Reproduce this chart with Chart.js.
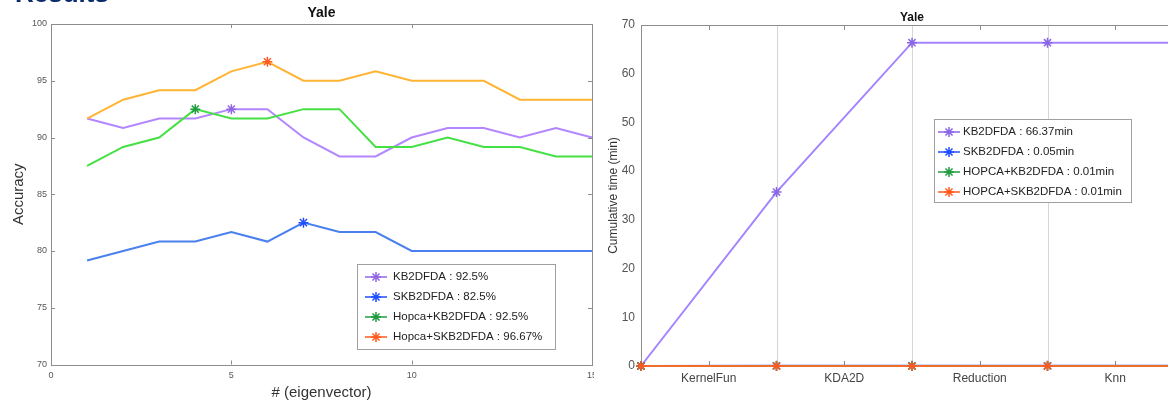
<!DOCTYPE html>
<html>
<head>
<meta charset="utf-8">
<script src="https://cdn.jsdelivr.net/npm/chart.js@4"></script>
<style>
  html, body { margin: 0; padding: 0; background: #fff; overflow: hidden; width: 1168px; height: 402px; }
  #left { position: absolute; left: 0; top: 0; }
  #right { position: absolute; left: 594px; top: 0; background: #fff; }
  #heading { position: absolute; left: 15px; top: -20px; z-index: 2;
    font: bold 26px "Liberation Sans", Arial, sans-serif; line-height: 26px; color: #0b2b6b; }
</style>
</head>
<body>
<div id="heading">Results</div>
<canvas id="left" width="594" height="402"></canvas>
<canvas id="right" width="600" height="402"></canvas>
<script>
// Left chart: accuracy vs number of eigenvectors
const eigenvectors = [1, 2, 3, 4, 5, 6, 7, 8, 9, 10, 11, 12, 13, 14, 15];
const accKb2dfda = [91.67, 90.83, 91.67, 91.67, 92.5, 92.5, 90, 88.33, 88.33, 90, 90.83, 90.83, 90, 90.83, 90];
const accSkb2dfda = [79.17, 80, 80.83, 80.83, 81.67, 80.83, 82.5, 81.67, 81.67, 80, 80, 80, 80, 80, 80];
const accHopcaKb2dfda = [87.5, 89.17, 90, 92.5, 91.67, 91.67, 92.5, 92.5, 89.17, 89.17, 90, 89.17, 89.17, 88.33, 88.33];
const accHopcaSkb2dfda = [91.67, 93.33, 94.17, 94.17, 95.83, 96.67, 95, 95, 95.83, 95, 95, 95, 93.33, 93.33, 93.33];
const accLabels = ['KB2DFDA : 92.5%', 'SKB2DFDA : 82.5%', 'Hopca+KB2DFDA : 92.5%', 'Hopca+SKB2DFDA : 96.67%'];

// Right chart: cumulative time per stage
const stages = ['KernelFun', 'KDA2D', 'Reduction', 'Knn'];
const stagePoints = [0, 1, 2, 3, 4];
const timeKb2dfda = [0, 35.7, 66.37, 66.37, 66.37];
const timeSkb2dfda = [0, 0.03, 0.05, 0.05, 0.05];
const timeHopcaKb2dfda = [0, 0.005, 0.01, 0.01, 0.01];
const timeHopcaSkb2dfda = [0, 0.005, 0.01, 0.01, 0.01];
const timeLabels = ['KB2DFDA : 66.37min', 'SKB2DFDA : 0.05min', 'HOPCA+KB2DFDA : 0.01min', 'HOPCA+SKB2DFDA : 0.01min'];

Chart.defaults.font.family = '"Liberation Sans", Arial, sans-serif';
Chart.defaults.animation = false;

const lineColors = ['#b386ff', '#4a80ee', '#44e044', '#ffb433'];
const markColors = ['#9266e4', '#1f4fff', '#1f9c3e', '#ff5a1f'];

// MATLAB-like box around the plot, inward ticks and optional vertical grid
const matlabFrame = {
  id: 'matlabFrame',
  beforeDatasetsDraw(chart, args, opts) {
    const { ctx, chartArea: a, scales } = chart;
    const px = v => Math.round(v) + 0.5;
    ctx.save();
    ctx.lineWidth = 1;
    ctx.strokeStyle = '#d6d6d6';
    (opts.gridX || []).forEach(v => {
      const x = px(scales.x.getPixelForValue(v));
      ctx.beginPath(); ctx.moveTo(x, a.top); ctx.lineTo(x, a.bottom); ctx.stroke();
    });
    ctx.strokeStyle = '#8c8c8c';
    ctx.strokeRect(px(a.left), px(a.top), Math.round(a.width), Math.round(a.height));
    const len = opts.tickLength;
    ctx.beginPath();
    scales.x.ticks.forEach(t => {
      const x = px(scales.x.getPixelForValue(t.value));
      ctx.moveTo(x, a.bottom); ctx.lineTo(x, a.bottom - len);
      ctx.moveTo(x, a.top); ctx.lineTo(x, a.top + len);
    });
    if (opts.yTicks) {
      scales.y.ticks.forEach(t => {
        const y = px(scales.y.getPixelForValue(t.value));
        ctx.moveTo(a.left, y); ctx.lineTo(a.left + len, y);
        ctx.moveTo(a.right, y); ctx.lineTo(a.right - len, y);
      });
    }
    ctx.stroke();
    ctx.restore();
  }
};

// legend box drawn inside the plot
const boxLegend = {
  id: 'boxLegend',
  afterDatasetsDraw(chart, args, o) {
    const ctx = chart.ctx;
    ctx.save();
    ctx.fillStyle = '#fff';
    ctx.fillRect(o.x, o.y, o.width, o.height);
    ctx.strokeStyle = '#a0a0a0';
    ctx.lineWidth = 1;
    ctx.strokeRect(o.x + 0.5, o.y + 0.5, o.width, o.height);
    ctx.font = o.font;
    ctx.textBaseline = 'middle';
    chart.data.datasets.forEach((ds, i) => {
      const y = o.y + o.firstRow + i * o.rowGap;
      const x = o.x + o.lineStart;
      ctx.strokeStyle = ds.pointBorderColor;
      ctx.lineWidth = 1.5;
      ctx.beginPath(); ctx.moveTo(x, y); ctx.lineTo(x + o.lineLength, y); ctx.stroke();
      ctx.fillStyle = ds.pointBorderColor;
      Chart.helpers.drawPoint(ctx, { pointStyle: 'star', radius: 5, borderWidth: 1.5, rotation: 0 }, x + o.lineLength / 2, y);
      ctx.fillStyle = '#222';
      ctx.fillText(ds.label, x + o.lineLength + o.textGap, y);
    });
    ctx.restore();
  }
};

function accSet(label, values, i) {
  const best = values.indexOf(Math.max(...values));
  return {
    label,
    order: 3 - i,
    data: eigenvectors.map((x, k) => ({ x, y: values[k] })),
    borderColor: lineColors[i],
    borderWidth: 2,
    pointStyle: 'star',
    pointRadius: values.map((v, k) => (k === best ? 5 : 0)),
    pointBorderWidth: 1.5,
    pointBorderColor: markColors[i],
    pointBackgroundColor: markColors[i],
    tension: 0,
    clip: false
  };
}

new Chart(document.getElementById('left'), {
  type: 'line',
  data: {
    datasets: [
      accSet(accLabels[0], accKb2dfda, 0),
      accSet(accLabels[1], accSkb2dfda, 1),
      accSet(accLabels[2], accHopcaKb2dfda, 2),
      accSet(accLabels[3], accHopcaSkb2dfda, 3)
    ]
  },
  options: {
    responsive: false,
    layout: { padding: { left: 0, right: 2, top: 0, bottom: 0 } },
    plugins: {
      legend: { display: false },
      tooltip: { enabled: false },
      title: {
        display: true, text: 'Yale', fullSize: false, color: '#111',
        font: { size: 14, weight: 'bold' }, padding: { top: 5, bottom: 2.2 }
      },
      matlabFrame: { tickLength: 4, yTicks: true },
      boxLegend: { x: 357, y: 264, width: 198, height: 85, firstRow: 13, rowGap: 20,
        lineStart: 8, lineLength: 22, textGap: 6, font: '11.5px "Liberation Sans", Arial, sans-serif' }
    },
    scales: {
      x: {
        type: 'linear', min: 0, max: 15,
        grid: { display: false, drawTicks: false },
        border: { display: false },
        ticks: { stepSize: 5, padding: 6, color: '#555', font: { size: 9 }, maxRotation: 0 },
        title: { display: true, text: '# (eigenvector)', color: '#333', font: { size: 15 }, padding: { top: 0, bottom: 0 } },
        afterFit(s) { s.height = 37.5; s.paddingLeft = 0; s.paddingRight = 0; }
      },
      y: {
        min: 70, max: 100,
        grid: { display: false, drawTicks: false },
        border: { display: false },
        ticks: { stepSize: 5, padding: 4, color: '#555', font: { size: 9 } },
        title: { display: true, text: 'Accuracy', color: '#333', font: { size: 15 }, padding: { top: 10, bottom: 0 } },
        afterFit(s) { s.width = 51; s.paddingTop = 0; s.paddingBottom = 0; }
      }
    }
  },
  plugins: [matlabFrame, boxLegend]
});

function timeSet(label, values, line, mark, order) {
  return {
    label,
    order,
    data: stagePoints.map((x, k) => ({ x, y: values[k] })),
    borderColor: line,
    borderWidth: 2,
    pointStyle: 'star',
    pointRadius: 5,
    pointBorderWidth: 1.5,
    pointBorderColor: mark,
    pointBackgroundColor: mark,
    tension: 0,
    clip: false
  };
}

new Chart(document.getElementById('right'), {
  type: 'line',
  data: {
    datasets: [
      timeSet(timeLabels[0], timeKb2dfda, '#a484ff', '#8a66e6', 3),
      timeSet(timeLabels[1], timeSkb2dfda, '#2f62f0', '#1f4fff', 2),
      timeSet(timeLabels[2], timeHopcaKb2dfda, '#2fb04f', '#1f9c3e', 1),
      timeSet(timeLabels[3], timeHopcaSkb2dfda, '#f26d2b', '#ff5a1f', 0)
    ]
  },
  options: {
    responsive: false,
    layout: { padding: { left: 0, right: 11, top: 0, bottom: 0 } },
    plugins: {
      legend: { display: false },
      tooltip: { enabled: false },
      title: {
        display: true, text: 'Yale', fullSize: false, color: '#111',
        font: { size: 12, weight: 'bold' }, padding: { top: 10, bottom: 0.6 }
      },
      matlabFrame: { tickLength: 5, yTicks: false, gridX: [1, 2, 3, 4] },
      boxLegend: { x: 340, y: 119, width: 197, height: 83, firstRow: 13, rowGap: 20,
        lineStart: 4, lineLength: 22, textGap: 3, font: '11.5px "Liberation Sans", Arial, sans-serif' }
    },
    scales: {
      x: {
        type: 'linear', min: 0, max: 4,
        grid: { display: false, drawTicks: false },
        border: { display: false },
        afterBuildTicks(axis) { axis.ticks = stages.map((s, i) => ({ value: i + 0.5 })); },
        ticks: { padding: 5, color: '#444', font: { size: 12 }, maxRotation: 0, autoSkip: false,
          callback: v => stages[Math.floor(v)] },
        afterFit(s) { s.height = 36; s.paddingLeft = 0; s.paddingRight = 0; }
      },
      y: {
        min: 0, max: 70,
        grid: { display: false, drawTicks: false },
        border: { display: false },
        ticks: { stepSize: 10, padding: 6, color: '#555', font: { size: 12 } },
        title: { display: true, text: 'Cumulative time (min)', color: '#333', font: { size: 12 }, padding: { top: 12.8, bottom: 0 } },
        afterFit(s) { s.width = 47; s.paddingTop = 0; s.paddingBottom = 0; }
      }
    }
  },
  plugins: [matlabFrame, boxLegend]
});
</script>
</body>
</html>
